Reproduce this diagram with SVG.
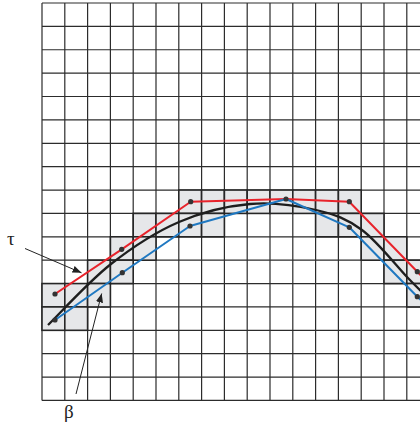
<svg xmlns="http://www.w3.org/2000/svg" width="420" height="424" viewBox="0 0 420 424">
<style>
.grid{stroke:#2c2c2c;stroke-width:1.2;fill:none}
.cell{fill:#e6e7e9;stroke:#262626;stroke-width:1.6}
.lab{font-family:"Liberation Serif","DejaVu Serif",serif;font-size:19px;fill:#222}
.dot{fill:#333}
</style>
<defs>
<marker id="ah" viewBox="0 0 10 10" refX="10" refY="5" markerWidth="9" markerHeight="9" markerUnits="userSpaceOnUse" orient="auto">
<path d="M0,1 L10,5 L0,9 z" fill="#222"/>
</marker>
</defs>
<rect width="420" height="424" fill="#fff"/>
<g id="grid">
<path class="grid" d="M42,3V400.46 M64.8,3V400.46 M87.6,3V400.46 M110.4,3V400.46 M133.2,3V400.46 M156,3V400.46 M178.8,3V400.46 M201.6,3V400.46 M224.4,3V400.46 M247.2,3V400.46 M270,3V400.46 M292.8,3V400.46 M315.6,3V400.46 M338.4,3V400.46 M361.2,3V400.46 M384,3V400.46 M406.8,3V400.46
M42,3H420 M42,26.38H420 M42,49.76H420 M42,73.14H420 M42,96.52H420 M42,119.9H420 M42,143.28H420 M42,166.66H420 M42,190.04H420 M42,213.42H420 M42,236.8H420 M42,260.18H420 M42,283.56H420 M42,306.94H420 M42,330.32H420 M42,353.7H420 M42,377.08H420 M42,400.46H420"/>
</g>
<g id="cells">
<rect class="cell" x="42" y="283.56" width="22.8" height="23.38"/>
<rect class="cell" x="42" y="306.94" width="22.8" height="23.38"/>
<rect class="cell" x="64.8" y="283.56" width="22.8" height="23.38"/>
<rect class="cell" x="64.8" y="306.94" width="22.8" height="23.38"/>
<rect class="cell" x="87.6" y="260.18" width="22.8" height="23.38"/>
<rect class="cell" x="87.6" y="283.56" width="22.8" height="23.38"/>
<rect class="cell" x="110.4" y="236.8" width="22.8" height="23.38"/>
<rect class="cell" x="110.4" y="260.18" width="22.8" height="23.38"/>
<rect class="cell" x="133.2" y="213.42" width="22.8" height="23.38"/>
<rect class="cell" x="133.2" y="236.8" width="22.8" height="23.38"/>
<rect class="cell" x="156" y="213.42" width="22.8" height="23.38"/>
<rect class="cell" x="178.8" y="190.04" width="22.8" height="23.38"/>
<rect class="cell" x="178.8" y="213.42" width="22.8" height="23.38"/>
<rect class="cell" x="201.6" y="190.04" width="22.8" height="23.38"/>
<rect class="cell" x="201.6" y="213.42" width="22.8" height="23.38"/>
<rect class="cell" x="224.4" y="190.04" width="22.8" height="23.38"/>
<rect class="cell" x="247.2" y="190.04" width="22.8" height="23.38"/>
<rect class="cell" x="270" y="190.04" width="22.8" height="23.38"/>
<rect class="cell" x="292.8" y="190.04" width="22.8" height="23.38"/>
<rect class="cell" x="315.6" y="190.04" width="22.8" height="23.38"/>
<rect class="cell" x="315.6" y="213.42" width="22.8" height="23.38"/>
<rect class="cell" x="338.4" y="190.04" width="22.8" height="23.38"/>
<rect class="cell" x="338.4" y="213.42" width="22.8" height="23.38"/>
<rect class="cell" x="361.2" y="213.42" width="22.8" height="23.38"/>
<rect class="cell" x="361.2" y="236.8" width="22.8" height="23.38"/>
<rect class="cell" x="384" y="236.8" width="22.8" height="23.38"/>
<rect class="cell" x="384" y="260.18" width="22.8" height="23.38"/>
<rect class="cell" x="406.8" y="260.18" width="22.8" height="23.38"/>
<rect class="cell" x="406.8" y="283.56" width="22.8" height="23.38"/>
</g>
<g id="connectors" fill="none" stroke-linejoin="round">
<path id="black-curve" stroke="#1e1e1e" stroke-width="2.3" d="M48,325 C59.3,314 89.3,281 111,264 C132.7,247 155.8,232 179,222 C202.2,212 227.2,206 250,204 C272.8,202 297.3,205.7 316,210 C334.7,214.3 346.8,218.8 362,230 C377.2,241.2 396.7,266.3 407,277 C417.3,287.7 421.2,291.2 424,294"/>
<polyline id="tau-line" stroke="#e8232b" stroke-width="2" points="55,294 121.7,249.3 190.7,201.7 286,199 349.3,201.7 417.3,271.7 424,279"/>
<polyline id="beta-line" stroke="#1f78c1" stroke-width="2" points="55,320 122.3,272.7 190,226 286,199 349.3,227.3 417.3,296.7 424,303"/>
<line id="tau-arrow" x1="25" y1="248.5" x2="81.5" y2="272.8" stroke="#222" stroke-width="1" marker-end="url(#ah)"/>
<line id="beta-arrow" x1="76" y1="394" x2="101.7" y2="293.5" stroke="#222" stroke-width="1" marker-end="url(#ah)"/>
</g>
<g id="dots">
<circle class="dot" cx="55" cy="294" r="2.6"/>
<circle class="dot" cx="121.7" cy="249.3" r="2.6"/>
<circle class="dot" cx="190.7" cy="201.7" r="2.6"/>
<circle class="dot" cx="286" cy="199" r="2.6"/>
<circle class="dot" cx="349.3" cy="201.7" r="2.6"/>
<circle class="dot" cx="417.3" cy="271.7" r="2.6"/>
<circle class="dot" cx="55" cy="320" r="2.6"/>
<circle class="dot" cx="122.3" cy="272.7" r="2.6"/>
<circle class="dot" cx="190" cy="226" r="2.6"/>
<circle class="dot" cx="349.3" cy="227.3" r="2.6"/>
<circle class="dot" cx="417.3" cy="296.7" r="2.6"/>
</g>
<g id="labels">
<text class="lab" x="7" y="245">τ</text>
<text class="lab" x="64" y="418">β</text>
</g>
</svg>
